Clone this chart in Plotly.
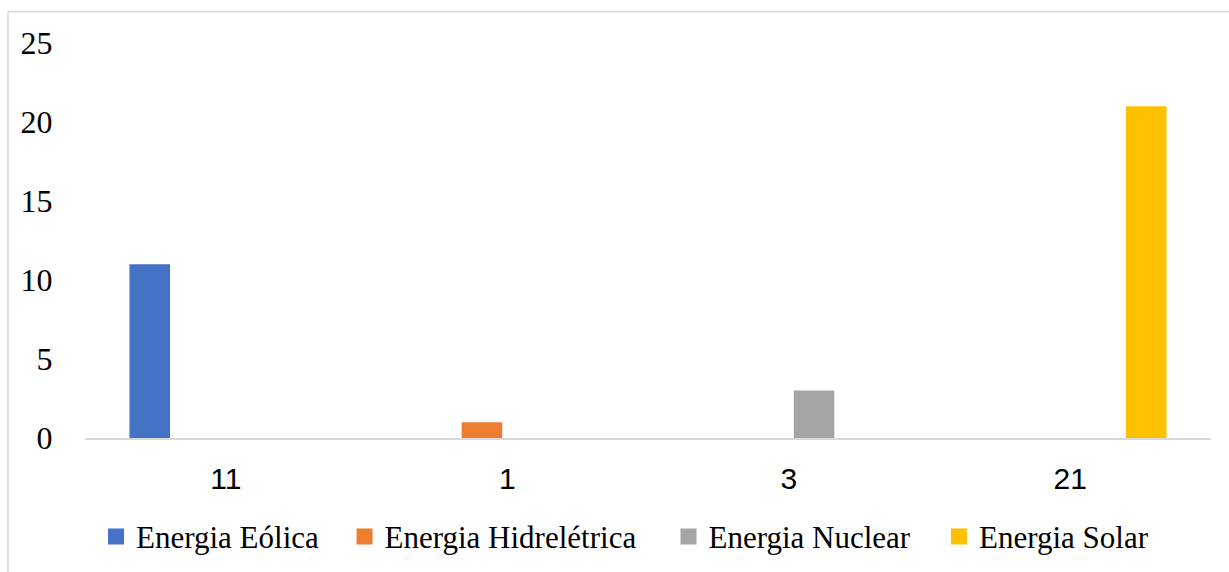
import plotly.graph_objects as go

# Category labels on the x axis
categories = ["11", "1", "3", "21"]

# One series per energy source
series_names = ["Energia Eólica", "Energia Hidrelétrica", "Energia Nuclear", "Energia Solar"]
eolica = [11, 0, 0, 0]
hidreletrica = [0, 1, 0, 0]
nuclear = [0, 0, 3, 0]
solar = [0, 0, 0, 21]
series_values = [eolica, hidreletrica, nuclear, solar]

colors = ["#4472C4", "#ED7D31", "#A5A5A5", "#FFC000"]

# Legend anchor positions (paper fraction) for each legend entry
legend_x = [0.0098, 0.2305, 0.5182, 0.7584]

fig = go.Figure()

for i, (name, vals, col) in enumerate(zip(series_names, series_values, colors)):
    fig.add_trace(go.Bar(
        x=categories, y=vals, name=name,
        marker=dict(color=col, line=dict(width=0)),
        showlegend=False,
    ))

# Square legend swatches, one legend box per series
for i, (name, col) in enumerate(zip(series_names, colors)):
    lg = "legend" if i == 0 else f"legend{i + 1}"
    fig.add_trace(go.Scatter(
        x=[None], y=[None], mode="markers", name=name,
        marker=dict(symbol="square", size=16, color=col),
        legend=lg, showlegend=True,
    ))

legend_font = dict(family="Liberation Serif, Times New Roman, serif", size=31, color="#000000")
legend_common = dict(
    orientation="h", xanchor="left", yanchor="middle", y=-0.25,
    font=legend_font, bgcolor="rgba(0,0,0,0)", borderwidth=0,
    itemsizing="trace", itemclick=False, itemdoubleclick=False,
)
layout_legends = {}
for i in range(4):
    key = "legend" if i == 0 else f"legend{i + 1}"
    layout_legends[key] = dict(legend_common, x=legend_x[i])

fig.update_layout(
    width=1229, height=572,
    margin=dict(l=85, r=18, t=43, b=134, autoexpand=False),
    paper_bgcolor="white", plot_bgcolor="white",
    barmode="group", bargap=0.28, bargroupgap=0.2,
    **layout_legends,
    xaxis=dict(
        type="category", categoryorder="array", categoryarray=categories,
        showline=True, linecolor="#D9D9D9", linewidth=1.5,
        showgrid=False, zeroline=False,
        ticks="outside", ticklen=13, tickcolor="rgba(0,0,0,0)",
        tickfont=dict(family="Liberation Sans, Arial, sans-serif", size=30, color="#000000"),
    ),
    yaxis=dict(
        range=[0, 25], dtick=5, tick0=0,
        showline=False, showgrid=False, zeroline=False,
        ticks="outside", ticklen=25, tickcolor="rgba(0,0,0,0)",
        tickfont=dict(family="Liberation Serif, Times New Roman, serif", size=32, color="#000000"),
    ),
    shapes=[dict(
        type="rect", xref="paper", yref="paper",
        x0=-0.0684, x1=1.03, y0=-0.36, y1=1.0792,
        line=dict(color="#D9D9D9", width=1.5), fillcolor="rgba(0,0,0,0)",
        layer="below",
    )],
)

fig.write_html("out.html")
